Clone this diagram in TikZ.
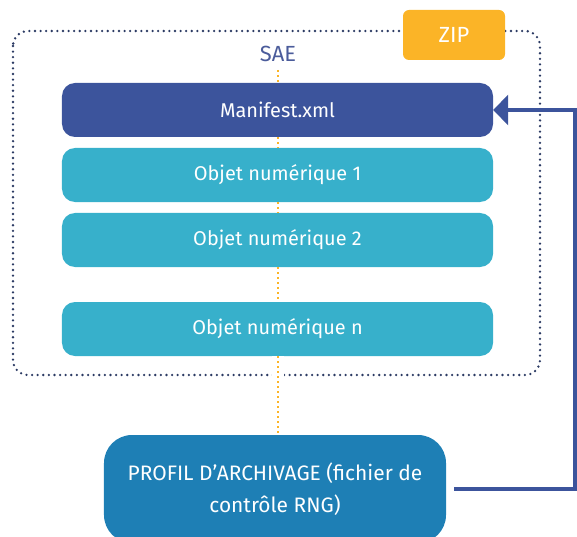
\documentclass[tikz,border=0pt]{standalone}
\usepackage{fontspec}
\setmainfont{Fira Sans}
\usetikzlibrary{arrows.meta}
\definecolor{manblue}{HTML}{3C549C}
\definecolor{objcyan}{HTML}{37B0CB}
\definecolor{profblue}{HTML}{1E7FB5}
\definecolor{zipor}{HTML}{FBB427}
\definecolor{navydot}{HTML}{2B3A63}
\definecolor{saetext}{HTML}{4B5C9B}
\tikzset{
  layerbox/.style={rectangle, rounded corners=13bp, minimum width=431bp, minimum height=54bp, inner sep=0pt, text=white, font=\fontsize{20}{24}\selectfont},
  orangedots/.style={draw=zipor, line width=2.2bp, dash pattern=on 2bp off 3bp},
  navydots/.style={draw=navydot, line width=2.6bp, line cap=round, dash pattern=on 0bp off 5.6bp},
  feedback/.style={draw=manblue, line width=3.6bp, -{Triangle[length=15bp,width=30bp]}},
}
\begin{document}
\begin{tikzpicture}[x=1bp,y=-1bp]
\useasboundingbox (0,0) rectangle (577,537);
% dotted SAE container
\draw[navydots, rounded corners=15bp] (13,31) rectangle (540,375);
% ZIP label
\node[fill=zipor, rounded corners=6bp, minimum width=102bp, minimum height=50bp, inner sep=0pt, text=white, font=\fontsize{22}{24}\selectfont] (zip) at (454,35) {ZIP};
\node[text=saetext, font=\fontsize{22}{24}\selectfont, inner sep=1bp] (sae) at (278,54) {SAE};
% layers
\node[layerbox, fill=manblue] (man) at (277.5,110) {Manifest.xml};
\node[layerbox, fill=objcyan] (o1) at (277.5,175) {Objet numérique 1};
\node[layerbox, fill=objcyan] (o2) at (277.5,240) {Objet numérique 2};
\node[layerbox, fill=objcyan] (on) at (277.5,329) {Objet numérique n};
% profile
\node[rectangle, rounded corners=28bp, fill=profblue, minimum width=342bp, minimum height=108bp, inner sep=0pt, text=white, align=center, font=\fontsize{21}{32}\selectfont] (prof) at (275,489) {PROFIL D’ARCHIVAGE (fichier de\\contrôle RNG)};
% orange dotted links
\draw[orangedots] (278,70) -- (man.north -| 278,0);
\draw[orangedots] (man.south -| 278,0) -- (o1.north -| 278,0);
\draw[orangedots] (o1.south -| 278,0) -- (o2.north -| 278,0);
\draw[orangedots] (o2.south -| 278,0) -- (on.north -| 278,0);
\draw[orangedots, preaction={draw=white, line width=12bp, dash pattern=}] (on.south -| 278,0) -- (prof.north -| 278,0);
% feedback arrow
\coordinate (rt) at (575,0);
\draw[feedback, shorten <=8bp] (prof.east) -- (prof.east -| rt) -- (man.east -| rt) -- (man.east);
\end{tikzpicture}
\end{document}
